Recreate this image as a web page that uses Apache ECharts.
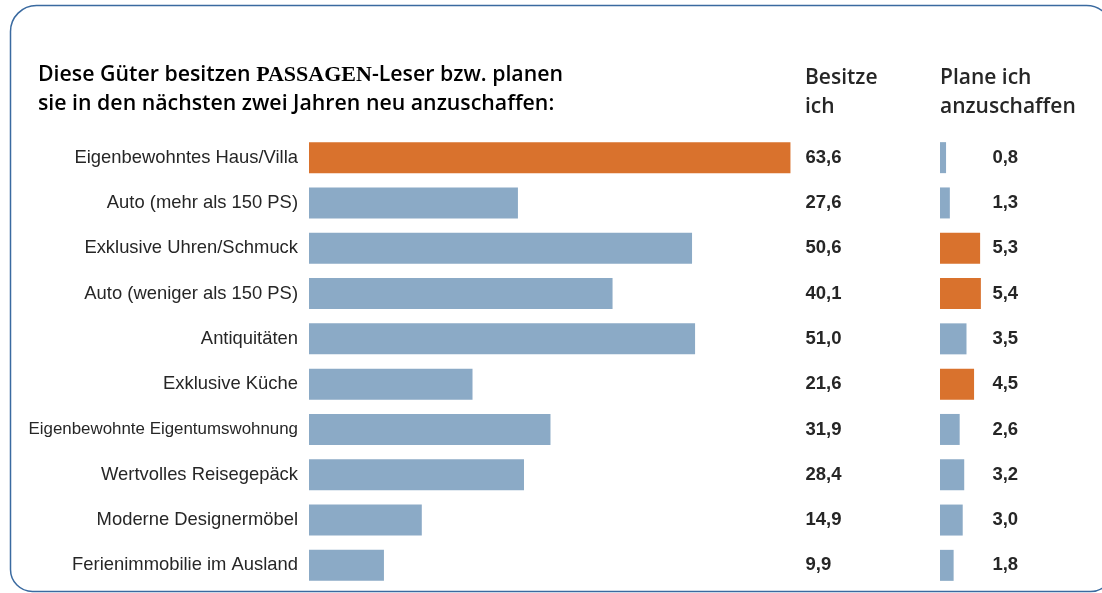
<!DOCTYPE html>
<html>
<head>
<meta charset="utf-8">
<script src="https://cdn.jsdelivr.net/npm/echarts@6/dist/echarts.min.js"></script>
<style>
  html, body { margin: 0; padding: 0; background: #fff; }
  #main { width: 1102px; height: 593px; }
</style>
</head>
<body>
<div id="main"></div>
<script>
const categories = [
  'Eigenbewohntes Haus/Villa',
  'Auto (mehr als 150 PS)',
  'Exklusive Uhren/Schmuck',
  'Auto (weniger als 150 PS)',
  'Antiquitäten',
  'Exklusive Küche',
  'Eigenbewohnte Eigentumswohnung',
  'Wertvolles Reisegepäck',
  'Moderne Designermöbel',
  'Ferienimmobilie im Ausland',
]
const owned = [63.6, 27.6, 50.6, 40.1, 51.0, 21.6, 31.9, 28.4, 14.9, 9.9]
const planned = [0.8, 1.3, 5.3, 5.4, 3.5, 4.5, 2.6, 3.2, 3.0, 1.8]

// which rows are drawn in orange
const ownedHighlight = [0]
const plannedHighlight = [2, 3, 5]

const ORANGE = '#d9722d'
const BLUE = '#8baac6'
const TEXT = '#262626'
const PX_PER_UNIT = 7.57

const fmt = (v) => v.toFixed(1).replace('.', ',')

const myChart = echarts.init(document.getElementById('main'))

const catAxis = (gridIndex, show) => ({
  type: 'category',
  gridIndex: gridIndex,
  data: categories,
  inverse: true,
  axisLine: { show: false },
  axisTick: { show: false },
  axisLabel: {
    show: show,
    margin: 11,
    color: TEXT,
    fontSize: 18.4,
    fontFamily: 'Liberation Sans',
    // the long label is set tighter in the original
    formatter: (v) => (v.length > 28 ? '{n|' + v + '}' : v),
    rich: {
      n: { fontSize: 16.9, fontFamily: 'Liberation Sans', color: TEXT },
    },
  },
})

const valueAxisLabels = (gridIndex, values, margin) => ({
  type: 'category',
  gridIndex: gridIndex,
  position: 'right',
  data: values.map(fmt),
  inverse: true,
  axisLine: { show: false },
  axisTick: { show: false },
  axisLabel: {
    margin: margin,
    color: TEXT,
    fontSize: 18.5,
    fontWeight: 'bold',
    fontFamily: 'Liberation Sans',
    align: 'left',
  },
})

const headStyle = {
  fontSize: 21,
  fontFamily: 'Open Sans',
  fontWeight: 600,
  fill: TEXT,
  lineHeight: 29,
}

const option = {
  backgroundColor: '#fff',
  animation: false,
  graphic: [
    {
      type: 'rect',
      shape: { x: 10.5, y: 5.5, width: 1102, height: 586, r: [26, 26, 22, 22] },
      style: { fill: 'none', stroke: '#3a6aa0', lineWidth: 1.5 },
      silent: true,
    },
    {
      type: 'text',
      left: 38,
      top: 64,
      style: {
        text: '{a|Diese Güter besitzen }{b|PASSAGEN}{a|-Leser bzw. planen}\n{a|sie in den nächsten zwei Jahren neu anzuschaffen:}',
        rich: {
          a: { fontSize: 21.3, fontFamily: 'Open Sans', fontWeight: 600, color: TEXT, lineHeight: 29 },
          b: { fontSize: 22, fontFamily: 'Liberation Serif', fontWeight: 'bold', color: TEXT, lineHeight: 29 },
        },
      },
    },
    {
      type: 'text',
      left: 805,
      top: 64,
      style: Object.assign({ text: 'Besitze\nich' }, headStyle),
    },
    {
      type: 'text',
      left: 940,
      top: 64,
      style: Object.assign({ text: 'Plane ich\nanzuschaffen' }, headStyle),
    },
  ],
  grid: [
    { left: 309, top: 135, width: 64 * PX_PER_UNIT, height: 453 },
    { left: 940, top: 135, width: 6 * PX_PER_UNIT, height: 453 },
  ],
  xAxis: [
    { type: 'value', gridIndex: 0, min: 0, max: 64, show: false },
    { type: 'value', gridIndex: 1, min: 0, max: 6, show: false },
  ],
  yAxis: [
    catAxis(0, true),
    valueAxisLabels(0, owned, 12),
    catAxis(1, false),
    valueAxisLabels(1, planned, 7),
  ],
  series: [
    {
      type: 'bar',
      xAxisIndex: 0,
      yAxisIndex: 0,
      barWidth: 31,
      data: owned.map((v, i) => ({
        value: v,
        itemStyle: { color: ownedHighlight.includes(i) ? ORANGE : BLUE },
      })),
    },
    {
      type: 'bar',
      xAxisIndex: 1,
      yAxisIndex: 2,
      barWidth: 31,
      data: planned.map((v, i) => ({
        value: v,
        itemStyle: { color: plannedHighlight.includes(i) ? ORANGE : BLUE },
      })),
    },
  ],
}

option && myChart.setOption(option)
</script>
</body>
</html>
